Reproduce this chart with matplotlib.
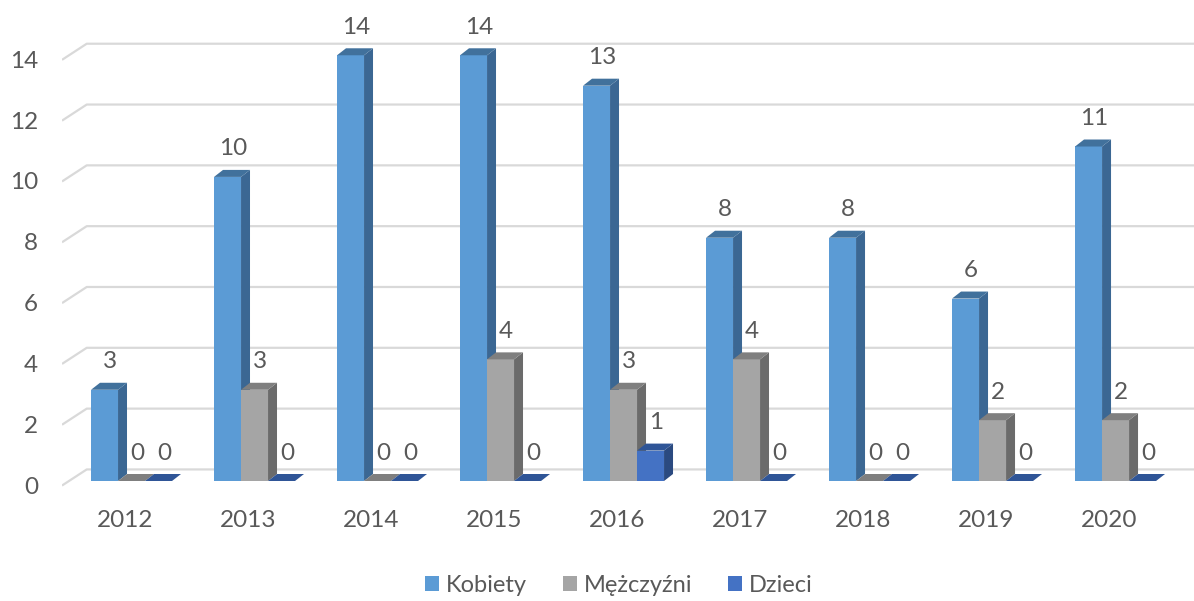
import numpy as np
import matplotlib.pyplot as plt
from matplotlib.patches import Polygon, Patch

# data
years = ['2012', '2013', '2014', '2015', '2016', '2017', '2018', '2019', '2020']
kobiety = [3, 10, 14, 14, 13, 8, 8, 6, 11]
mezczyzni = [0, 3, 0, 4, 3, 4, 0, 2, 2]
dzieci = [0, 0, 0, 0, 1, 0, 0, 0, 0]
series_names = ['Kobiety', 'Mężczyźni', 'Dzieci']
y_ticks = [0, 2, 4, 6, 8, 10, 12, 14]

# colours: front, side, top
colors = [
    ('#5B9BD5', '#3B6793', '#41719C'),
    ('#A5A5A5', '#6B6B6B', '#7F7F7F'),
    ('#4472C4', '#2B4A80', '#2F5597'),
]
text_col = '#595959'
grid_col = '#D9D9D9'
fs = 17.5

plt.rcParams['font.family'] = ['Lato', 'DejaVu Sans']

fig = plt.figure(figsize=(11.94, 6.01), dpi=100)
ax = fig.add_axes([62 / 1194, 1 - 500 / 601, 1132 / 1194, 480 / 601])
ax.set_xlim(-0.561, 8.642)
ax.set_ylim(-0.625, 15.16)
ax.axis('off')

# pseudo 3D geometry
bw = 0.2195              # bar front width
ddx, ddy = 0.073, 0.23   # bar depth
offsets = [-0.325, -0.325 + bw, -0.325 + 2 * bw]
x = np.arange(len(years))

# gridlines: short diagonal on the left then along the back wall
for v in y_ticks:
    ax.plot([-0.561, -0.36, 8.642], [v - 0.15, v + 0.38, v + 0.38],
            color=grid_col, lw=1.6, zorder=1, solid_capstyle='butt')
    ax.annotate(str(v), (-0.561, v - 0.2), xytext=(-24, 0), textcoords='offset pixels',
                ha='right', va='center', fontsize=fs, color=text_col)

all_series = [kobiety, mezczyzni, dzieci]
for s, vals in enumerate(all_series):
    front, side, top = colors[s]
    lefts = x + offsets[s]
    ax.bar(lefts, vals, width=bw, align='edge', color=front, zorder=3, lw=0)
    for xl, v in zip(lefts, vals):
        xr = xl + bw
        ax.add_patch(Polygon([(xr, 0), (xr, v), (xr + ddx, v + ddy), (xr + ddx, ddy)],
                             closed=True, facecolor=side, lw=0, zorder=3))
        ax.add_patch(Polygon([(xl, v), (xr, v), (xr + ddx, v + ddy), (xl + ddx, v + ddy)],
                             closed=True, facecolor=top, lw=0, zorder=3))
        ax.text(xl + bw / 2 + 0.045, v + 0.92, str(v), ha='center', va='center',
                fontsize=fs, color=text_col, zorder=4)

# year labels
for i, yr in enumerate(years):
    ax.text(i - 0.05, -1.3, yr, ha='center', va='center', fontsize=fs,
            color=text_col, clip_on=False)

handles = [Patch(facecolor=colors[k][0], edgecolor='none') for k in range(3)]
leg = fig.legend(handles, series_names, loc='center', bbox_to_anchor=(619 / 1194, 1 - 585 / 601),
                 ncol=3, frameon=False, fontsize=17, handlelength=0.6, handleheight=0.6,
                 handletextpad=0.3, columnspacing=1.5)
for t in leg.get_texts():
    t.set_color(text_col)

fig.savefig('out.png', dpi=100)
